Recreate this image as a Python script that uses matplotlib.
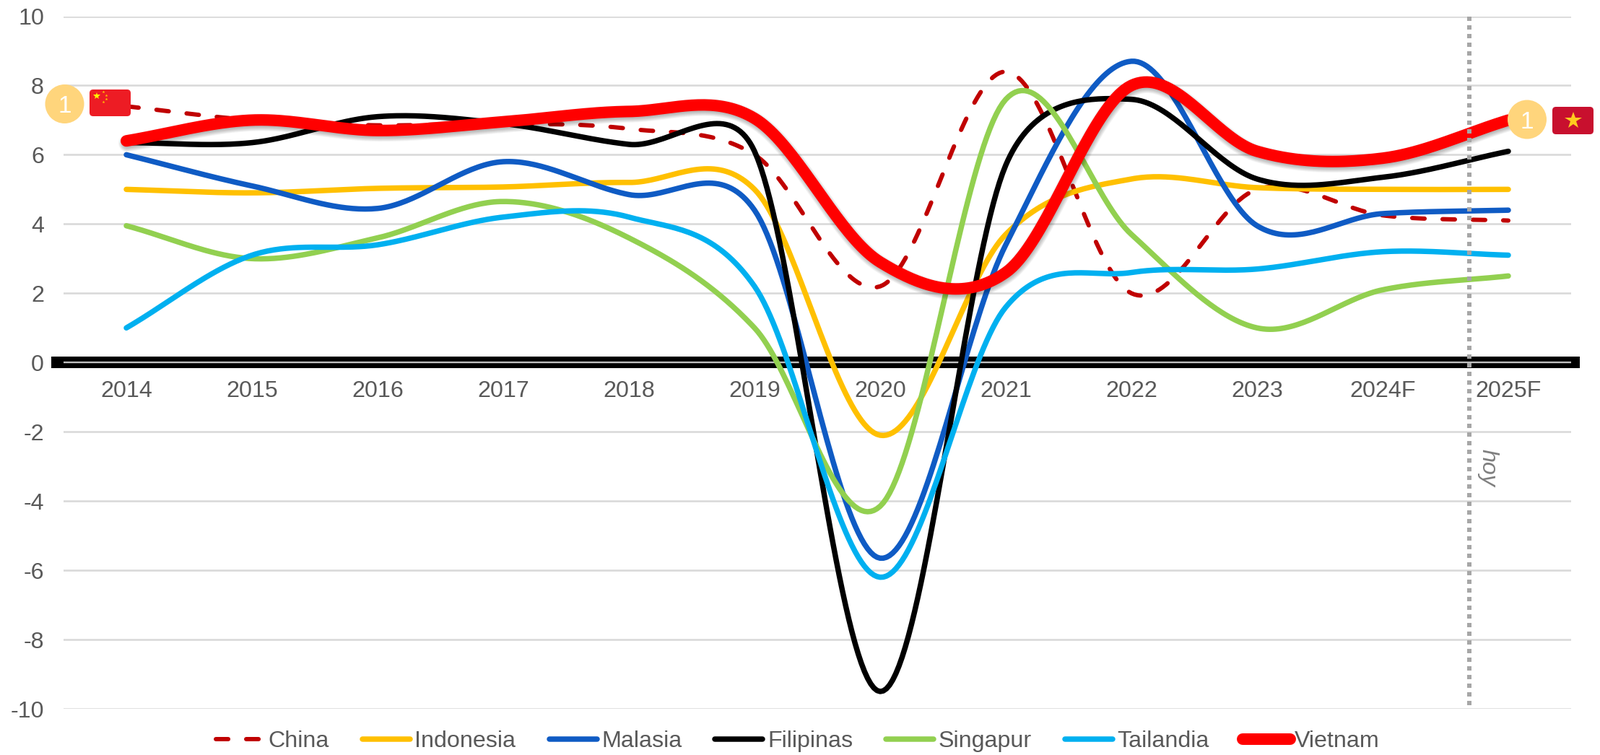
import numpy as np
import matplotlib
matplotlib.use("Agg")
import matplotlib.pyplot as plt
import matplotlib.patheffects as pe
from matplotlib.patches import Circle, FancyBboxPatch

plt.rcParams['font.family'] = ['Liberation Sans', 'DejaVu Sans']
plt.rcParams['axes.unicode_minus'] = False

years = ['2014', '2015', '2016', '2017', '2018', '2019', '2020', '2021', '2022', '2023', '2024F', '2025F']
china = [7.4, 7.0, 6.85, 6.9, 6.75, 6.0, 2.2, 8.4, 2.0, 5.0, 4.25, 4.1]
indonesia = [5.0, 4.9, 5.03, 5.07, 5.2, 5.0, -2.1, 3.7, 5.3, 5.05, 5.0, 5.0]
malasia = [6.0, 5.1, 4.45, 5.8, 4.85, 4.4, -5.65, 3.4, 8.7, 3.95, 4.3, 4.4]
filipinas = [6.35, 6.35, 7.1, 6.9, 6.3, 6.1, -9.5, 5.7, 7.6, 5.3, 5.35, 6.1]
singapur = [3.95, 3.0, 3.6, 4.65, 3.6, 1.0, -4.15, 7.6, 3.7, 1.0, 2.1, 2.5]
tailandia = [1.0, 3.1, 3.4, 4.2, 4.2, 2.2, -6.2, 1.6, 2.6, 2.7, 3.2, 3.1]
vietnam = [6.4, 7.0, 6.7, 6.95, 7.25, 7.05, 2.9, 2.6, 8.0, 6.1, 5.9, 7.0]
y_ticks = [-10, -8, -6, -4, -2, 0, 2, 4, 6, 8, 10]

W, H = 2216, 1046
GREY = '#595959'
FS = 23.2
PX_X, PX_Y = 174.0, 48.0   # pixels per category / per unit, used to limit curve handles
LIMIT = 0.53


def px(v):
    return v * 72 / 100


def smooth(values, n=40):
    """Spreadsheet-style smoothed line: Bezier segments through each value."""
    v = np.asarray(values, float)
    P = np.c_[np.arange(len(v)) * PX_X, v * PX_Y]
    xs, ys = [], []
    N = len(v)
    for i in range(N - 1):
        a, b = P[i], P[i + 1]
        chord = np.linalg.norm(b - a)
        o1 = (P[i + 1] - P[i - 1]) / 6 if i > 0 else (b - a) / 3
        o2 = (P[i + 2] - P[i]) / 6 if i < N - 2 else (b - a) / 3
        for o in (o1, o2):
            ln = np.linalg.norm(o)
            if ln > LIMIT * chord:
                o *= LIMIT * chord / ln
        c1, c2 = a + o1, b - o2
        t = np.linspace(0, 1, n, endpoint=False)[:, None]
        c = (1-t)**3 * a + 3*(1-t)**2*t * c1 + 3*(1-t)*t**2 * c2 + t**3 * b
        xs.append(c[:, 0] / PX_X)
        ys.append(c[:, 1] / PX_Y)
    return np.r_[np.concatenate(xs), N - 1], np.r_[np.concatenate(ys), v[-1]]


fig = plt.figure(figsize=(W / 100, H / 100), dpi=100, facecolor='white')
ax = fig.add_axes([88 / W, 1 - 982 / H, (2176 - 88) / W, (982 - 22.5) / H])
ax.set_xlim(-0.5, 11.5)
ax.set_ylim(-10, 10)
ax.set_yticks(y_ticks)
ax.set_xticks(range(len(years)))
ax.set_xticklabels(years)
ax.grid(axis='y', color='#D9D9D9', lw=px(2.6))
ax.grid(axis='x', visible=False)
ax.set_axisbelow(True)
for s in ('top', 'left', 'right'):
    ax.spines[s].set_visible(False)
b = ax.spines['bottom']
b.set_position(('data', 0))
b.set_bounds(-0.598, 11.57)
b.set_color('black')
b.set_linewidth(px(16))
b.set_capstyle('butt')
b.set_zorder(1.5)
ax.tick_params(axis='x', length=0, labelsize=FS, labelcolor=GREY, pad=17.5)
ax.tick_params(axis='y', length=0, labelsize=FS, labelcolor=GREY, pad=19.5)
ax.axhline(0, color='#BFBFBF', lw=px(2.4), zorder=1.6)

styles = [
    ('China', china, '#C00000', 6, (2.85, 4.15)),
    ('Indonesia', indonesia, '#FFC000', 7.5, None),
    ('Malasia', malasia, '#0F5BC4', 7.5, None),
    ('Filipinas', filipinas, '#000000', 7.5, None),
    ('Singapur', singapur, '#92D050', 7.5, None),
    ('Tailandia', tailandia, '#00B0F0', 7.5, None),
    ('Vietnam', vietnam, '#FF0000', 16, None),
]
for i, (name, vals, col, lw, dash) in enumerate(styles):
    xs, ys = smooth(vals)
    line, = ax.plot(xs, ys, color=col, lw=px(lw), label=name, zorder=3 + i * 0.1,
                    solid_capstyle='round', dash_capstyle='round',
                    solid_joinstyle='round', clip_on=False)
    if dash:
        line.set_dashes(dash)

leg = fig.legend(*ax.get_legend_handles_labels(), loc='center', ncol=7,
                 bbox_to_anchor=(1105 / W, 1 - 1027 / H), frameon=False, fontsize=FS,
                 labelcolor=GREY, handlelength=2.05, handletextpad=0.2, columnspacing=1.43,
                 borderpad=0, borderaxespad=0)

# soft shadow below the Vietnam line only (not on its legend key)
vline = ax.get_lines()[-1]
shadow = [pe.Stroke(linewidth=px(16 + e), foreground='black', alpha=0.045,
                    offset=(0.8, -2.4)) for e in (8, 6, 4, 2, 0, -2, -4)]
vline.set_path_effects(shadow + [pe.Normal()])

ax.plot([10.69, 10.69], [10, -9.9], color='#A6A6A6', lw=px(6), dashes=(1, 1),
        dash_capstyle='butt', zorder=5)
fig.text(2060 / W, 1 - 648 / H, 'hoy', rotation=270, style='italic', color='#7F7F7F',
         fontsize=FS, ha='center', va='center')

ov = fig.add_axes([0, 0, 1, 1], zorder=10)
ov.set_xlim(0, W)
ov.set_ylim(H, 0)
ov.axis('off')
ov.patch.set_alpha(0)
for cx, cy in [(89.5, 144), (2115, 165.5)]:
    ov.add_patch(Circle((cx, cy), 27, color='#FFD57C', lw=0))
    ov.text(cx, cy, '1', color='white', fontsize=24, ha='center', va='center_baseline')
ov.add_patch(FancyBboxPatch((128, 128), 49, 29, boxstyle='round,pad=4,rounding_size=5',
                            fc='#ED1C24', ec='none'))
ov.add_patch(FancyBboxPatch((2154, 152), 49, 30, boxstyle='round,pad=4,rounding_size=5',
                            fc='#C8102E', ec='none'))
ov.plot([133.5], [133], marker='*', ms=7.5, color='#FFF200', mew=0, ls='none')
ov.plot([143, 146.5, 146.5, 143], [127, 132, 137, 141], marker='*', ms=3,
        color='#FFC800', mew=0, ls='none')
ov.plot([2178.5], [167], marker='*', ms=17.5, color='#FFCB1E', mew=0, ls='none')

fig.savefig('out.png', dpi=100, facecolor='white')
